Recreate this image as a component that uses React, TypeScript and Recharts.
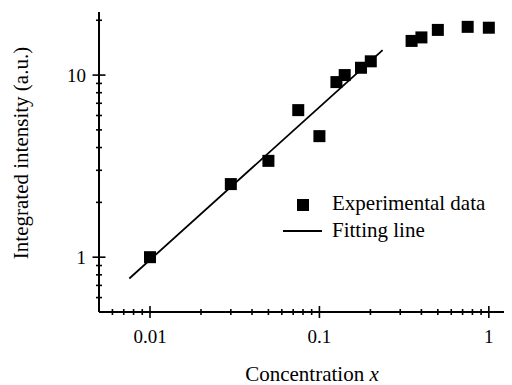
import { ScatterChart, Scatter, XAxis, YAxis } from "recharts";

// measured data (concentration x vs integrated intensity)
const conc = [0.01, 0.03, 0.05, 0.075, 0.1, 0.126, 0.141, 0.176, 0.201, 0.35, 0.4, 0.5, 0.75, 1.0];
const intensity = [1.0, 2.52, 3.38, 6.42, 4.62, 9.15, 10.0, 10.97, 11.9, 15.4, 16.1, 17.7, 18.4, 18.2];

// fitting line end points
const fitX = [0.00755, 0.236];
const fitY = [0.764, 13.7];

const xTicks = [
  0.006, 0.007, 0.008, 0.009, 0.01,
  0.02, 0.03, 0.04, 0.05, 0.06, 0.07, 0.08, 0.09, 0.1,
  0.2, 0.3, 0.4, 0.5, 0.6, 0.7, 0.8, 0.9, 1,
];
const xMajor = [0.01, 0.1, 1];
const yTicks = [0.6, 0.7, 0.8, 0.9, 1, 2, 3, 4, 5, 6, 7, 8, 9, 10, 20];
const yMajor = [1, 10];

const legendLabels = ["Experimental data", "Fitting line"];
const xTitle = "Concentration";
const yTitle = "Integrated intensity (a.u.)";

const points = conc.map((x, i) => ({ x, y: intensity[i] }));
const fitData = fitX.map((x, i) => ({ x, y: fitY[i] }));

const SERIF = "Liberation Serif";
const isMajor = (list: number[], v: number) => list.some(m => Math.abs(m - v) < 1e-9);

const Txt = ({ size, children, ...rest }: any) => (
  <text fontFamily={SERIF} fontSize={size} fill="#000" style={{ fontFamily: SERIF }} {...rest}>
    {children}
  </text>
);

const XTick = (props: any) => {
  const { x, y, payload } = props;
  const major = isMajor(xMajor, payload.value);
  const len = major ? 6 : 3;
  return (
    <g>
      <line x1={x} x2={x} y1={y - len} y2={y + len} stroke="#000" strokeWidth={1.6} />
      {major && (
        <Txt size={19} x={x} y={y + 31} textAnchor="middle">
          {String(payload.value)}
        </Txt>
      )}
    </g>
  );
};

const YTick = (props: any) => {
  const { x, y, payload } = props;
  const major = isMajor(yMajor, payload.value);
  const len = major ? 6.5 : 3;
  return (
    <g>
      <line x1={x - len} x2={x + len} y1={y} y2={y} stroke="#000" strokeWidth={1.6} />
      {major && (
        <Txt size={19} x={x - 13} y={y + 6.5} textAnchor="end">
          {String(payload.value)}
        </Txt>
      )}
    </g>
  );
};

const Square = (props: any) => {
  const { cx, cy } = props;
  if (cx == null || cy == null) return <g />;
  return <rect x={cx - 6} y={cy - 6} width={12} height={12} fill="#000" />;
};

export default function App() {
  return (
    <div style={{ position: "relative", margin: "-8px 0 0 -8px", width: 512, height: 385 }}>
      {/* plain svg drawn on first render so the serif face is loaded before the chart paints */}
      <svg width={512} height={385} style={{ position: "absolute", left: 0, top: 0 }}>
        <Txt size={21} x={312} y={381} textAnchor="middle">
          {xTitle}{"  "}
          <tspan fontStyle="italic">x</tspan>
        </Txt>
        <Txt size={21} x={28} y={153} transform="rotate(-90, 28, 153)" textAnchor="middle">
          {yTitle}
        </Txt>
        <rect x={297} y={199} width={12} height={12} fill="#000" />
        <Txt size={21} x={332} y={210}>{legendLabels[0]}</Txt>
        <line x1={283} x2={322} y1={231} y2={231} stroke="#000" strokeWidth={1.8} />
        <Txt size={21} x={332} y={237}>{legendLabels[1]}</Txt>
        <Txt size={19} x={-50} y={-50}>0.01 0.1 1 10</Txt>
      </svg>
      <div style={{ position: "absolute", left: 0, top: 0 }}>
        <ScatterChart width={512} height={385} margin={{ top: 12, right: 0, bottom: 0, left: 0 }}>
          <XAxis
            dataKey="x"
            type="number"
            scale="log"
            domain={[0.005, 1.37]}
            allowDataOverflow
            ticks={xTicks}
            interval={0}
            height={73}
            tickSize={0}
            tickMargin={0}
            tickLine={false}
            tick={<XTick />}
            axisLine={{ stroke: "#000", strokeWidth: 2 }}
          />
          <XAxis
            xAxisId="top"
            orientation="top"
            type="number"
            scale="log"
            domain={[0.005, 1.37]}
            allowDataOverflow
            height={0}
            tick={false}
            tickLine={false}
            axisLine={{ stroke: "#000", strokeWidth: 2 }}
          />
          <YAxis
            dataKey="y"
            type="number"
            scale="log"
            domain={[0.5, 22.2]}
            allowDataOverflow
            ticks={yTicks}
            interval={0}
            width={99}
            tickSize={0}
            tickMargin={0}
            tickLine={false}
            tick={<YTick />}
            axisLine={{ stroke: "#000", strokeWidth: 2 }}
          />
          <Scatter
            data={fitData}
            line={{ stroke: "#000", strokeWidth: 1.8 }}
            shape={() => <g />}
            legendType="none"
            isAnimationActive={false}
          />
          <Scatter data={points} shape={<Square />} isAnimationActive={false} />
        </ScatterChart>
      </div>
    </div>
  );
}
